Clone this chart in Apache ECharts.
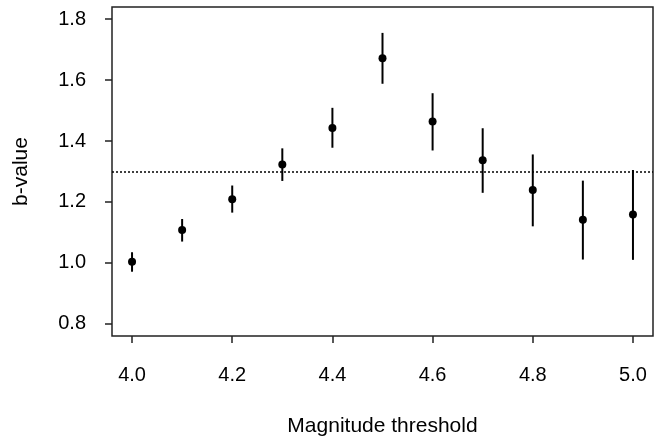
<!DOCTYPE html>
<html>
<head>
<meta charset="utf-8">
<script src="https://cdn.jsdelivr.net/npm/echarts@6/dist/echarts.min.js"></script>
<style>
  html, body { margin: 0; padding: 0; background: #fff; }
  #chart { width: 663px; height: 443px; }
</style>
</head>
<body>
<div id="chart"></div>
<script>
// magnitude thresholds and b-value estimates with error bar ends
const magnitudes = [4.0, 4.1, 4.2, 4.3, 4.4, 4.5, 4.6, 4.7, 4.8, 4.9, 5.0];
const bValues = [1.004, 1.108, 1.209, 1.323, 1.443, 1.672, 1.464, 1.337, 1.239, 1.142, 1.159];
const bLower = [0.971, 1.070, 1.165, 1.269, 1.378, 1.588, 1.369, 1.230, 1.120, 1.011, 1.010];
const bUpper = [1.035, 1.144, 1.254, 1.376, 1.509, 1.755, 1.557, 1.442, 1.356, 1.270, 1.305];
const refLevel = 1.3;
const xTicks = [4.0, 4.2, 4.4, 4.6, 4.8, 5.0];
const yTicks = [0.8, 1.0, 1.2, 1.4, 1.6, 1.8];

const font = "'Liberation Sans', Arial, Helvetica, sans-serif";

const points = magnitudes.map((m, i) => [m, bValues[i]]);
const bars = magnitudes.map((m, i) => [m, bLower[i], bUpper[i]]);

const chart = echarts.init(document.getElementById("chart"));
chart.setOption({
  animation: false,
  grid: {
    left: 112,
    right: 10,
    top: 7,
    bottom: 107,
    show: true,
    borderColor: "#222",
    borderWidth: 1.5,
    outerBoundsMode: "none",
  },
  xAxis: {
    type: "value",
    min: 3.96,
    max: 5.04,
    name: "Magnitude threshold",
    nameLocation: "middle",
    nameGap: 80,
    nameTextStyle: { color: "#000", fontSize: 21, fontFamily: font },
    axisLine: { show: false },
    splitLine: { show: false },
    axisTick: {
      show: true,
      length: 7,
      customValues: xTicks,
      lineStyle: { color: "#222", width: 1.5 },
    },
    axisLabel: {
      customValues: xTicks,
      margin: 29,
      color: "#000",
      fontSize: 20,
      fontFamily: font,
      formatter: (v) => v.toFixed(1),
    },
  },
  yAxis: {
    type: "value",
    min: 0.76,
    max: 1.84,
    name: "b-value",
    nameLocation: "middle",
    nameGap: 80,
    nameTextStyle: { color: "#000", fontSize: 21, fontFamily: font },
    axisLine: { show: false },
    splitLine: { show: false },
    axisTick: {
      show: true,
      length: 7,
      customValues: yTicks,
      lineStyle: { color: "#222", width: 1.5 },
    },
    axisLabel: {
      customValues: yTicks,
      margin: 26,
      color: "#000",
      fontSize: 20,
      fontFamily: font,
      formatter: (v) => v.toFixed(1),
    },
  },
  series: [
    {
      // vertical error bars
      type: "custom",
      data: bars,
      renderItem: (params, api) => {
        const lo = api.coord([api.value(0), api.value(1)]);
        const hi = api.coord([api.value(0), api.value(2)]);
        return {
          type: "line",
          shape: { x1: lo[0], y1: lo[1], x2: hi[0], y2: hi[1] },
          style: { stroke: "#000", lineWidth: 2 },
        };
      },
      z: 2,
    },
    {
      type: "scatter",
      data: points,
      symbol: "circle",
      symbolSize: 8,
      itemStyle: { color: "#000", opacity: 1 },
      z: 3,
      markLine: {
        silent: true,
        symbol: "none",
        label: { show: false },
        lineStyle: { color: "#000", type: [2, 2], width: 1.5 },
        data: [{ yAxis: refLevel }],
      },
    },
  ],
});
</script>
</body>
</html>
